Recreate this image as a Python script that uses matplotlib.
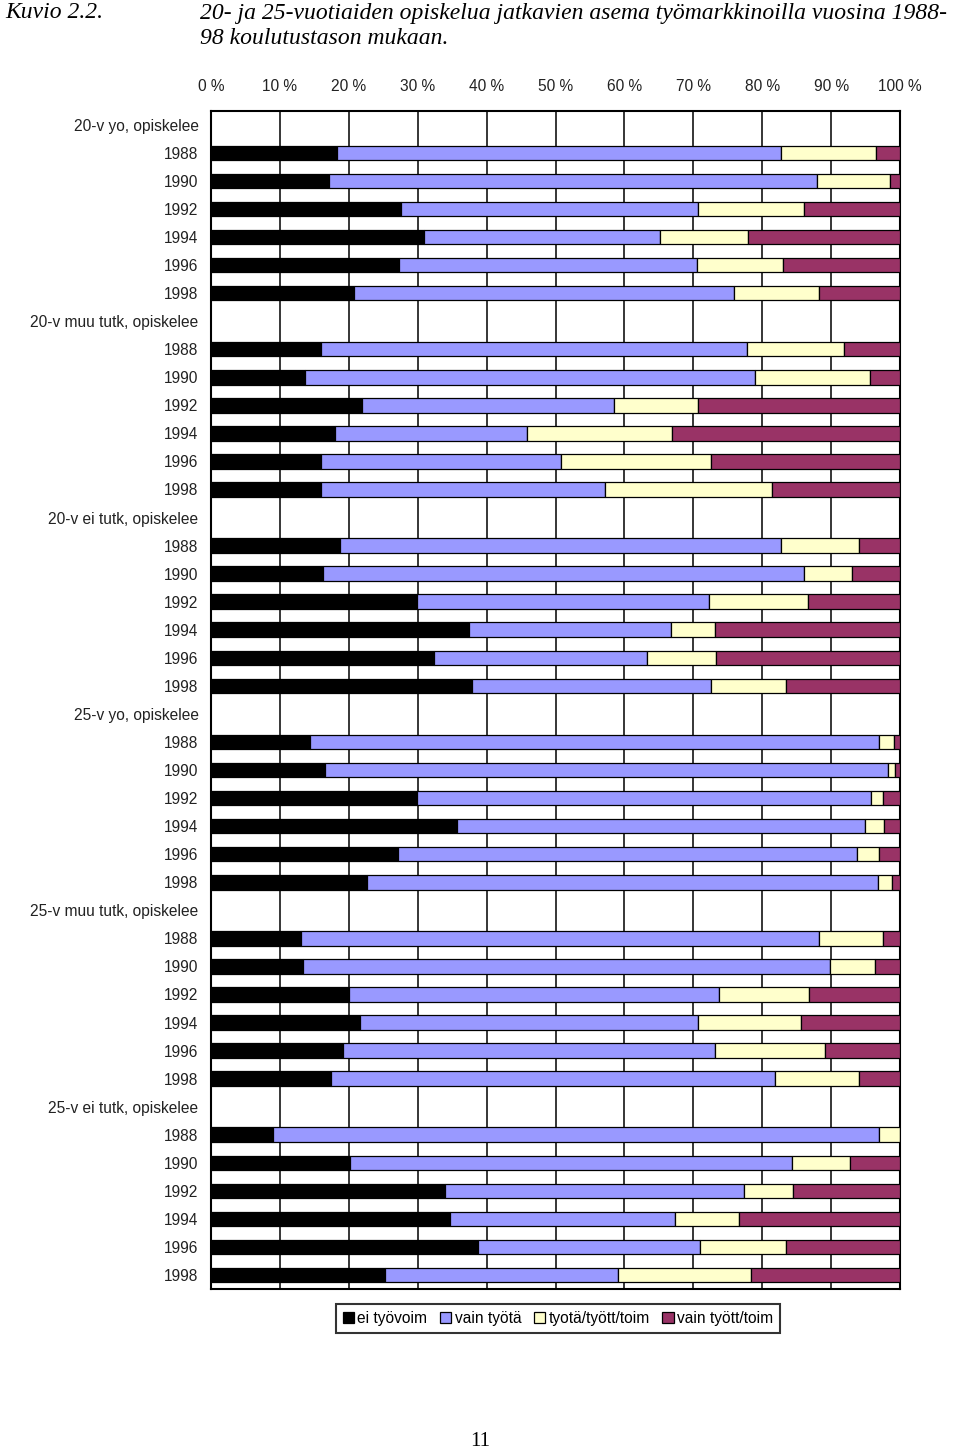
import matplotlib.pyplot as plt
import numpy as np

# group and year labels
groups = [
    "20-v yo, opiskelee",
    "20-v muu tutk, opiskelee",
    "20-v ei tutk, opiskelee",
    "25-v yo, opiskelee",
    "25-v muu tutk, opiskelee",
    "25-v ei tutk, opiskelee",
]
years = ["1988", "1990", "1992", "1994", "1996", "1998"]

series_names = ["ei työvoim", "vain työtä", "tyotä/tyött/toim", "vain tyött/toim"]
series_colors = ["#000000", "#9999FF", "#FFFFCC", "#993366"]

# percentages, rows in order group by group, years 1988..1998
ei_tyovoim = [
    18.3, 17.1, 27.6, 30.9, 27.3, 20.8,
    16.0, 13.6, 21.9, 18.0, 16.0, 15.9,
    18.7, 16.3, 29.9, 37.5, 32.3, 37.9,
    14.4, 16.5, 29.9, 35.7, 27.2, 22.7,
    13.0, 13.4, 20.1, 21.6, 19.1, 17.4,
    9.0, 20.2, 34.0, 34.7, 38.8, 25.2,
]
vain_tyota = [
    64.5, 70.9, 43.1, 34.2, 43.2, 55.1,
    61.8, 65.4, 36.6, 27.8, 34.8, 41.3,
    64.1, 69.8, 42.4, 29.2, 31.0, 34.7,
    82.6, 81.7, 65.9, 59.2, 66.6, 74.1,
    75.2, 76.5, 53.6, 49.1, 54.1, 64.4,
    88.0, 64.1, 43.4, 32.6, 32.1, 33.8,
]
tyota_tyott = [
    13.7, 10.5, 15.4, 12.8, 12.5, 12.3,
    14.0, 16.7, 12.2, 21.1, 21.8, 24.2,
    11.2, 6.9, 14.3, 6.5, 10.0, 10.8,
    2.2, 1.1, 1.8, 2.8, 3.1, 2.0,
    9.4, 6.5, 13.1, 14.9, 15.9, 12.3,
    3.0, 8.5, 7.1, 9.3, 12.5, 19.4,
]
vain_tyott = [
    3.5, 1.5, 13.9, 22.1, 17.0, 11.8,
    8.2, 4.3, 29.3, 33.1, 27.4, 18.6,
    6.0, 7.0, 13.4, 26.8, 26.7, 16.6,
    0.8, 0.7, 2.4, 2.3, 3.1, 1.2,
    2.4, 3.6, 13.2, 14.4, 10.9, 5.9,
    0.0, 7.2, 15.5, 23.4, 16.6, 21.6,
]

xticks = [0, 10, 20, 30, 40, 50, 60, 70, 80, 90, 100]

plt.rcParams["font.family"] = ["Liberation Sans", "DejaVu Sans"]

fig = plt.figure(figsize=(9.6, 14.51), dpi=100)
ax = fig.add_axes([0.2198, 0.1116, 0.7177, 0.8121])

# row positions: group label row followed by its years
positions = []
labels = []
row = 0
for g in groups:
    labels.append(g)
    row += 1
    for y in years:
        positions.append(row)
        labels.append(y)
        row += 1
n_rows = row
positions = np.array(positions)

left = np.zeros(len(positions))
for vals, name, col in zip(
    [ei_tyovoim, vain_tyota, tyota_tyott, vain_tyott], series_names, series_colors
):
    vals = np.array(vals)
    ax.barh(positions, vals, left=left, height=0.52, color=col,
            edgecolor="black", linewidth=0.9, label=name, zorder=3)
    left = left + vals

ax.set_xlim(0, 100)
ax.set_ylim(n_rows - 0.5, -0.5)
ax.set_xticks(xticks)
ax.set_xticklabels([f"{t} %" for t in xticks])
ax.xaxis.tick_top()
ax.set_yticks(range(n_rows))
ax.set_yticklabels(labels)
ax.tick_params(axis="both", length=0, labelsize=11.2, colors="#222222")
ax.tick_params(axis="x", pad=12)
ax.tick_params(axis="y", pad=9)
for lbl in ax.get_yticklabels():
    lbl.set_y(lbl.get_position()[1])
ax.grid(axis="x", color="black", linewidth=1.1, zorder=0)
ax.set_axisbelow(True)
for s in ax.spines.values():
    s.set_linewidth(1.5)
    s.set_color("black")

leg = fig.legend(loc="center", bbox_to_anchor=(0.581, 0.0914), ncol=4,
                 fontsize=11.2, frameon=True, fancybox=False, edgecolor="black",
                 handlelength=0.75, handleheight=0.75, handletextpad=0.2,
                 columnspacing=0.8, borderpad=0.45, borderaxespad=0)
leg.get_frame().set_linewidth(1.5)

fig.text(5 / 960, 1 - 13 / 1451, "Kuvio 2.2.", fontsize=17, style="italic",
         family="Liberation Serif", va="center", ha="left")
fig.text(200 / 960, 1 - 13 / 1451,
         "20- ja 25-vuotiaiden opiskelua jatkavien asema työmarkkinoilla vuosina 1988-",
         fontsize=17, style="italic", family="Liberation Serif", va="center", ha="left")
fig.text(200 / 960, 1 - 39 / 1451, "98 koulutustason mukaan.", fontsize=17,
         style="italic", family="Liberation Serif", va="center", ha="left")
fig.text(480 / 960, 1 - 1441 / 1451, "11", fontsize=15, family="Liberation Serif",
         va="center", ha="center")

fig.savefig("out.png", dpi=100)
